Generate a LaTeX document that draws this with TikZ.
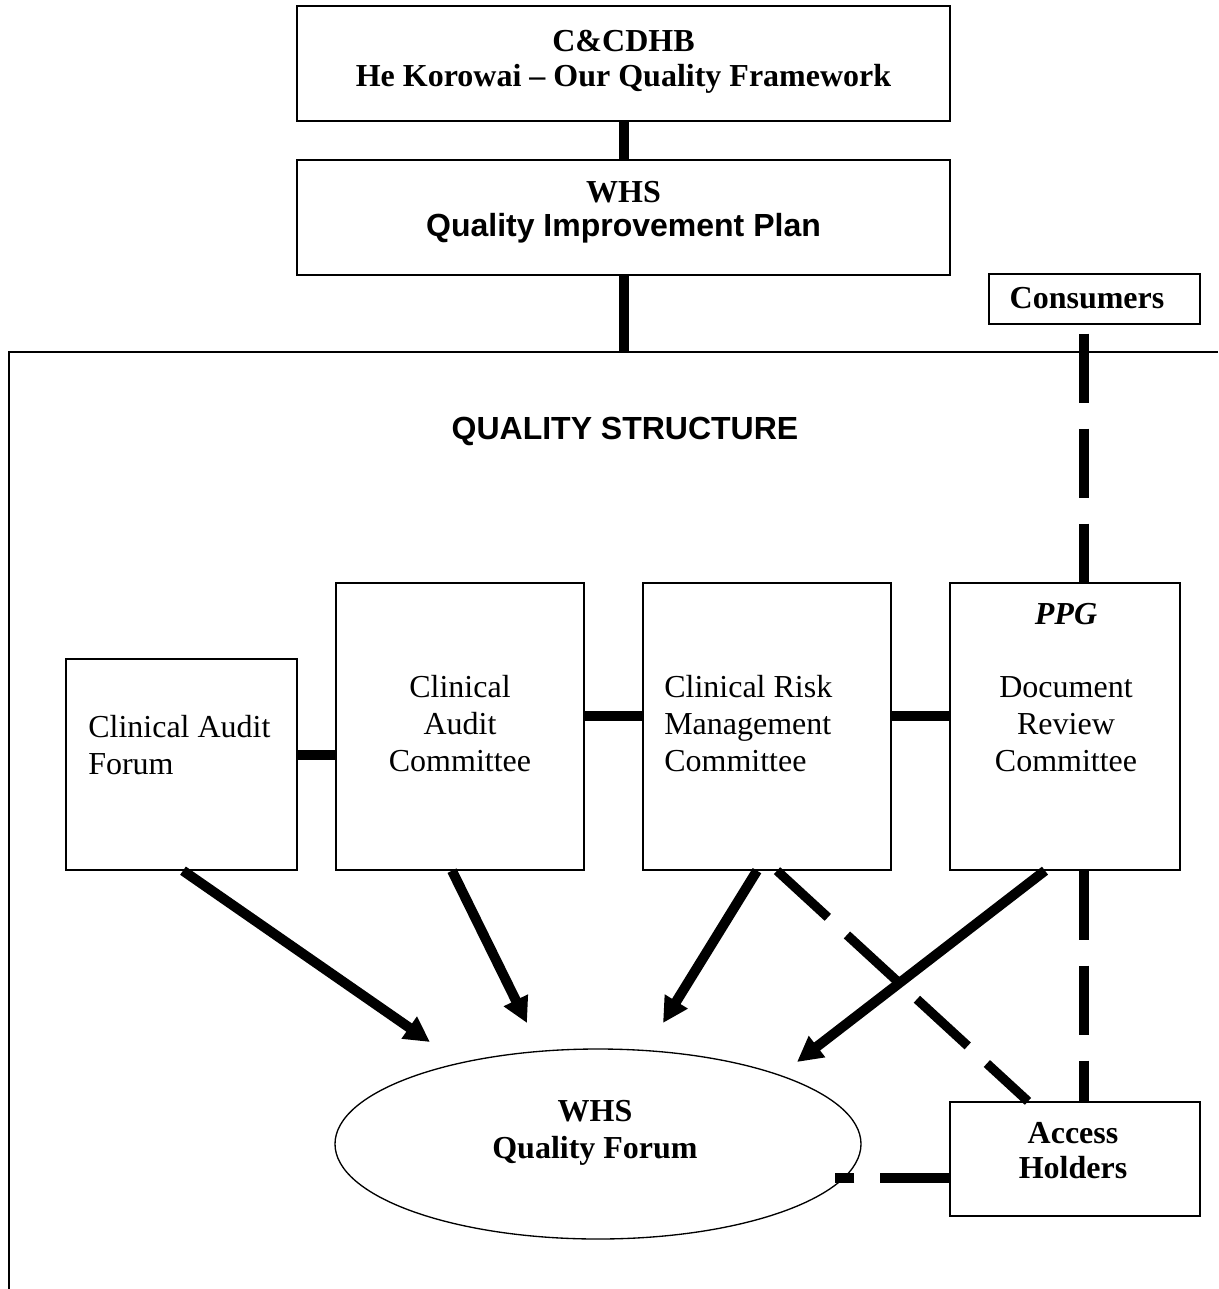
\documentclass[tikz,border=0pt]{standalone}
\usepackage{fontspec}
\setmainfont{Liberation Serif}
\newfontfamily\arialfont{Liberation Sans}
\usetikzlibrary{arrows.meta,shapes.geometric}
\begin{document}
\begin{tikzpicture}[x=0.75pt,y=-0.75pt,
  box/.style={draw, line width=1pt, rectangle, inner sep=0pt},
  txt/.style={font=\fontsize{24}{27.75}\selectfont, inner sep=0pt, align=center},
  btxt/.style={font=\fontsize{24}{26.25}\selectfont\bfseries, inner sep=0pt, align=center},
  atxt/.style={font=\arialfont\fontsize{24}{26.25}\selectfont\bfseries, inner sep=0pt, align=center},
  solidlink/.style={line width=7.5pt},
  dashlink/.style={line width=7pt, dash pattern=on 51.75pt off 19.5pt},
  arrowlink/.style={line width=7.5pt, -{Triangle[length=19pt,width=19pt]}}
]
\useasboundingbox (0,0) rectangle (1218,1289);

% frame
\coordinate (fcorner) at (9,352);
\coordinate (fbottom) at (9,1289);
\coordinate (fright) at (1218,352);
\coordinate (ftop) at (623.5,352);
\draw[line width=1pt] (fbottom) -- (fcorner) -- (fright);

% boxes
\node[box, minimum width=489.75pt, minimum height=86.25pt] (top) at (623.5,63.5) {};
\node[box, minimum width=489.75pt, minimum height=86.25pt] (qip) at (623.5,217.5) {};
\node[box, minimum width=158.25pt, minimum height=37.5pt] (cons) at (1094.5,299) {};
\node[box, minimum width=173.25pt, minimum height=158.25pt] (caf) at (181.5,764.5) {};
\node[box, minimum width=186pt, minimum height=215.25pt] (cac) at (460,726.5) {};
\node[box, minimum width=186pt, minimum height=215.25pt] (crm) at (767,726.5) {};
\node[box, minimum width=172.5pt, minimum height=215.25pt] (drc) at (1065,726.5) {};
\node[box, minimum width=187.5pt, minimum height=85.5pt] (ah) at (1075,1159) {};
\node[draw, ellipse, line width=1pt, inner sep=0pt, minimum width=394.5pt, minimum height=142.5pt] (qf) at (598,1144) {};

% texts
\node[btxt] (tTop) at (623.5,62) {C\&CDHB\\He Korowai -- Our Quality Framework};
\node[btxt] (tQipA) at (623.5,192) {WHS};
\node[atxt] (tQipB) at (623.5,228) {Quality Improvement Plan};
\node[btxt] (tCons) at (1087,298) {Consumers};
\node[atxt] (tQS) at (625,431) {QUALITY STRUCTURE};
\node[txt, align=left, anchor=west] (tCaf) at (88,745) {Clinical Audit\\Forum};
\node[txt] (tCac) at (460,724) {Clinical\\Audit\\Committee};
\node[txt, align=left, anchor=west] (tCrm) at (664,724) {Clinical Risk\\Management\\Committee};
\node[txt] (tPpg) at (1066,614) {\textbf{\textit{PPG}}};
\node[txt] (tDrc) at (1066,724) {Document\\Review\\Committee};
\node[btxt, font=\fontsize{24}{28}\selectfont\bfseries] (tQf) at (595,1133) {WHS\\Quality Forum};
\node[btxt] (tAh) at (1073,1151) {Access\\Holders};

% solid connectors
\draw[solidlink] (top.south) -- (qip.north);
\draw[solidlink] (qip.south) -- (ftop);
\draw[solidlink] (caf.east |- 0,755) -- (cac.west |- 0,755);
\draw[solidlink] (cac.east |- 0,716) -- (crm.west |- 0,716);
\draw[solidlink] (crm.east |- 0,716) -- (drc.west |- 0,716);

% arrows to the forum
\coordinate (t1) at (430,1042);
\coordinate (t2) at (527,1023);
\coordinate (t3) at (663,1023);
\coordinate (t4) at (797,1062);
\draw[arrowlink] (caf.south -| 183,0) -- (t1);
\draw[arrowlink] (cac.south -| 452,0) -- (t2);
\draw[arrowlink] (crm.south -| 757,0) -- (t3);
\draw[arrowlink] (drc.south -| 1045,0) -- (t4);

% dashed connectors
\path (cons.south -| 1084,0) ++(0,9) coordinate (c1);
\draw[dashlink] (c1) -- (drc.north -| c1);
\draw[dashlink] (drc.south -| 1084,0) -- (ah.north -| 1084,0);
\draw[dashlink] (crm.south -| 777,0) -- (ah.north -| 1028,0);
\path (ah.west) ++(0,19) coordinate (a1);
\coordinate (qfe) at (835,1178);
\draw[dashlink] (a1) -- (qfe);
\end{tikzpicture}
\end{document}
